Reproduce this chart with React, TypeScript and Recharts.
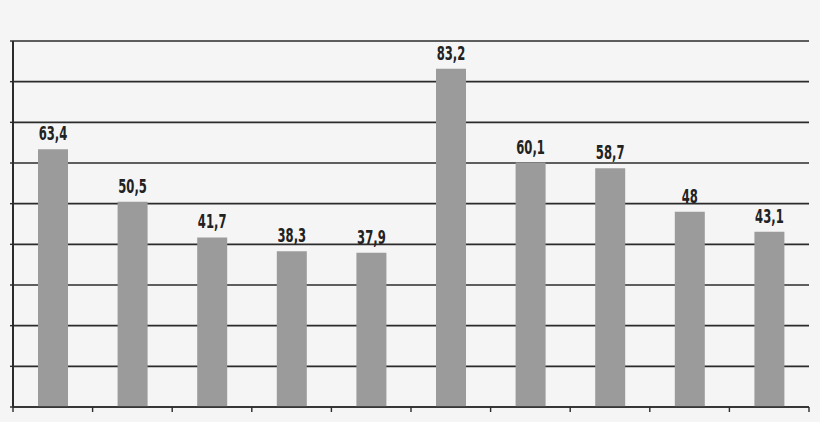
import { BarChart, Bar, XAxis, YAxis, CartesianGrid, LabelList } from 'recharts'

const categories = ['1', '2', '3', '4', '5', '6', '7', '8', '9', '10']
const values = [63.4, 50.5, 41.7, 38.3, 37.9, 83.2, 60.1, 58.7, 48, 43.1]
const yTicks = [0, 10, 20, 30, 40, 50, 60, 70, 80, 90]

const data = categories.map((name, i) => ({ name, value: values[i] }))

const LINE = '#2b2b2b'

const NoTick = () => <g />

// tick marks sit on the category boundaries, not on the band centres
const EdgeTick = (props: any) => {
  const { x, y, payload, index, visibleTicksCount, width } = props
  const half =
    payload && payload.offset != null
      ? payload.offset
      : Number(width) / Number(visibleTicksCount) / 2
  const left = Number(x) - half
  const right = Number(x) + half
  return (
    <g>
      <line x1={left} x2={left} y1={y} y2={y + 5} stroke={LINE} strokeWidth={1.4} />
      {index === visibleTicksCount - 1 && (
        <line x1={right} x2={right} y1={y} y2={y + 5} stroke={LINE} strokeWidth={1.4} />
      )}
    </g>
  )
}

// narrow bold label, squeezed horizontally to look like a condensed face
const BarLabel = (props: any) => {
  const { x, y, width, value } = props
  const cx = Number(x) + Number(width) / 2
  const ty = Number(y) - 9
  return (
    <text
      transform={`translate(${cx} ${ty}) scale(0.68 1)`}
      x={0}
      y={0}
      textAnchor="middle"
      fontFamily="'DejaVu Sans Condensed', 'DejaVu Sans', sans-serif"
      fontWeight={700}
      fontSize={19}
      fill="#222"
    >
      {String(value).replace('.', ',')}
    </text>
  )
}

export default function App() {
  return (
    <div style={{ width: 820, height: 422, background: '#f5f5f5' }}>
      <style>{'body{margin:0}'}</style>
      <BarChart
        width={820}
        height={422}
        data={data}
        margin={{ top: 41, right: 11, bottom: 0, left: 0 }}
      >
        <CartesianGrid vertical={false} stroke={LINE} strokeWidth={1.6} />
        <XAxis
          dataKey="name"
          height={15}
          tickSize={0}
          tickMargin={0}
          tickLine={false}
          tick={EdgeTick}
          interval={0}
          axisLine={{ stroke: LINE, strokeWidth: 1.6 }}
        />
        <YAxis
          domain={[0, 90]}
          ticks={yTicks}
          tick={NoTick}
          tickSize={3}
          width={13}
          axisLine={{ stroke: LINE, strokeWidth: 2 }}
          tickLine={{ stroke: LINE, strokeWidth: 1.4 }}
        />
        <Bar dataKey="value" fill="#9b9b9c" barSize={30} isAnimationActive={false}>
          <LabelList dataKey="value" content={BarLabel} />
        </Bar>
      </BarChart>
    </div>
  )
}
